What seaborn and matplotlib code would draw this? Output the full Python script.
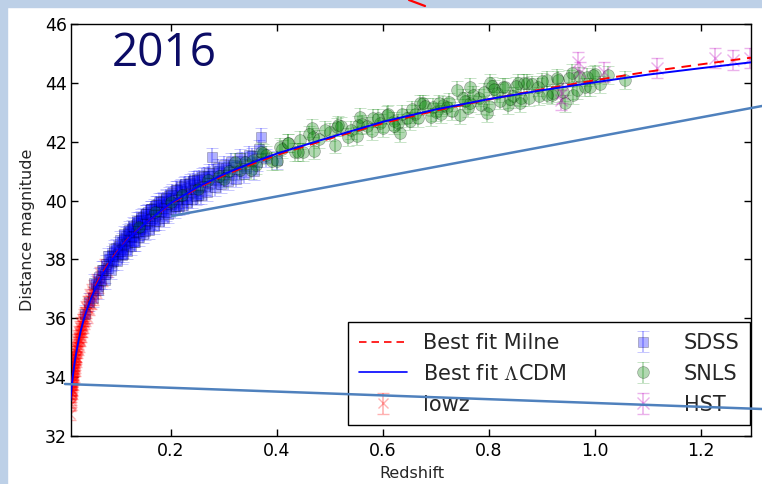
import numpy as np
import pandas as pd
import matplotlib
matplotlib.use("Agg")
import matplotlib.pyplot as plt
import seaborn as sns
from matplotlib.lines import Line2D
from matplotlib.patches import Rectangle

# ---------------- data ----------------
fit_z = [0.0101, 0.0125, 0.015, 0.0175, 0.02, 0.025, 0.03, 0.035, 0.04, 0.05, 0.06, 0.07, 0.085,
         0.1, 0.12, 0.15, 0.2, 0.25, 0.3, 0.35, 0.4, 0.5, 0.6, 0.7, 0.8, 0.9, 1.0, 1.1, 1.2, 1.3]
lcdm_mu = [33.20, 33.67, 34.07, 34.41, 34.71, 35.19, 35.60, 35.94, 36.23, 36.72, 37.12, 37.46, 37.89,
           38.27, 38.70, 39.21, 39.92, 40.46, 40.90, 41.27, 41.60, 42.15, 42.68, 43.10, 43.45, 43.75,
           44.02, 44.28, 44.50, 44.71]
milne_mu = [33.28, 33.75, 34.15, 34.49, 34.79, 35.27, 35.68, 36.02, 36.30, 36.79, 37.19, 37.52, 37.94,
            38.30, 38.72, 39.21, 39.90, 40.43, 40.86, 41.22, 41.55, 42.11, 42.63, 43.06, 43.44, 43.78,
            44.09, 44.38, 44.63, 44.87]

lowz_z = [0.0101, 0.0103, 0.0105, 0.0108, 0.011, 0.0112, 0.0115, 0.0118, 0.012, 0.0123, 0.0125,
          0.0128, 0.013, 0.0133, 0.0135, 0.0138, 0.014, 0.0145, 0.015, 0.0153, 0.0155, 0.016,
          0.0165, 0.017, 0.0175, 0.018, 0.0185, 0.019, 0.0195, 0.020, 0.021, 0.0215, 0.022, 0.023,
          0.0235, 0.024, 0.025, 0.026, 0.027, 0.028, 0.029, 0.030, 0.031, 0.032, 0.033, 0.034,
          0.035, 0.036, 0.037, 0.038, 0.040, 0.041, 0.043, 0.045, 0.047, 0.049, 0.051, 0.053,
          0.055, 0.058, 0.060, 0.063, 0.066, 0.070, 0.075, 0.080,
          0.0102, 0.0107, 0.0113, 0.0117, 0.0122, 0.0127, 0.0132, 0.0137, 0.0143, 0.0148, 0.0158,
          0.0163, 0.0168, 0.0178, 0.0183, 0.0188, 0.0198, 0.0205, 0.0212, 0.0225, 0.0245, 0.0255,
          0.0265, 0.0275, 0.0285, 0.0295, 0.0305, 0.0315, 0.0325, 0.0345, 0.0355, 0.039, 0.042,
          0.044, 0.046, 0.048, 0.050, 0.052, 0.056, 0.062, 0.068]
lowz_mu = [33.05, 32.75, 33.45, 33.20, 33.60, 33.10, 33.55, 33.35, 33.80, 33.45, 33.90,
           33.60, 34.00, 33.70, 34.10, 33.80, 34.20, 33.95, 34.30, 34.00, 34.40, 34.10,
           34.55, 34.25, 34.65, 34.35, 34.75, 34.45, 34.85, 34.55, 35.00, 34.65, 35.10, 34.85,
           35.25, 34.95, 35.40, 35.05, 35.55, 35.25, 35.70, 35.40, 35.85, 35.55, 35.95, 35.70,
           36.10, 35.85, 36.20, 35.95, 36.40, 36.05, 36.55, 36.30, 36.80, 36.50, 36.95, 36.65,
           37.10, 36.90, 37.30, 37.05, 37.55, 37.30, 37.80, 37.60,
           33.35, 33.50, 33.75, 33.25, 33.60, 33.85, 33.55, 34.05, 33.75, 34.20, 34.25,
           34.05, 34.40, 34.50, 34.25, 34.60, 34.70, 34.85, 34.70, 35.00, 35.15, 35.25,
           35.30, 35.40, 35.50, 35.55, 35.65, 35.70, 35.80, 35.95, 36.00, 36.20, 36.35,
           36.45, 36.55, 36.65, 36.75, 36.85, 37.00, 37.20, 37.40]
lowz_err = 0.2

sdss_z = [0.037, 0.045, 0.052, 0.058, 0.062, 0.065, 0.068, 0.072, 0.075, 0.078, 0.081, 0.083,
          0.086, 0.088, 0.090, 0.092, 0.095, 0.097, 0.100, 0.102, 0.104, 0.107, 0.109, 0.111,
          0.113, 0.115, 0.117, 0.119, 0.121, 0.123, 0.125, 0.127, 0.129, 0.131, 0.133, 0.135,
          0.137, 0.139, 0.141, 0.143, 0.145, 0.147, 0.150, 0.152, 0.155, 0.157, 0.160, 0.162,
          0.165, 0.168, 0.170, 0.173, 0.176, 0.178, 0.181, 0.184, 0.187, 0.190, 0.193, 0.196,
          0.199, 0.202, 0.205, 0.209, 0.213, 0.217, 0.221, 0.225, 0.229, 0.233, 0.237, 0.241,
          0.245, 0.249, 0.254, 0.259, 0.264, 0.269, 0.274, 0.277, 0.279, 0.285, 0.291, 0.297,
          0.303, 0.310, 0.317, 0.325, 0.333, 0.342, 0.352, 0.362, 0.365, 0.370, 0.380, 0.400,
          0.055, 0.063, 0.070, 0.076, 0.082, 0.087, 0.093, 0.098, 0.103, 0.108, 0.112, 0.116,
          0.120, 0.124, 0.128, 0.132, 0.136, 0.140, 0.144, 0.148, 0.153, 0.158, 0.163, 0.167,
          0.172, 0.177, 0.182, 0.186, 0.191, 0.195, 0.200, 0.207, 0.211, 0.215, 0.219, 0.223,
          0.227, 0.231, 0.235, 0.239, 0.243, 0.247, 0.252, 0.257, 0.262, 0.267, 0.272, 0.282,
          0.288, 0.294, 0.300, 0.307, 0.314, 0.322, 0.330, 0.338, 0.347, 0.357, 0.150, 0.130,
          0.110, 0.170, 0.190, 0.210, 0.230, 0.250]
sdss_mu = [36.15, 36.55, 36.70, 37.15, 37.10, 37.40, 37.30, 37.65, 37.50, 37.85, 37.70, 38.00,
           37.90, 38.15, 37.95, 38.25, 38.10, 38.40, 38.20, 38.45, 38.30, 38.60, 38.35, 38.70,
           38.50, 38.80, 38.55, 38.90, 38.65, 38.95, 38.75, 39.05, 38.80, 39.10, 38.90, 39.20,
           38.95, 39.30, 39.05, 39.35, 39.10, 39.45, 39.20, 39.55, 39.25, 39.60, 39.35, 39.70,
           39.40, 39.75, 39.50, 39.85, 39.55, 39.95, 39.65, 40.00, 39.75, 40.05, 39.85, 40.15,
           39.90, 40.25, 39.95, 40.35, 40.05, 40.40, 40.15, 40.50, 40.20, 40.55, 40.30, 40.65,
           40.40, 40.70, 40.45, 40.80, 40.50, 40.85, 40.60, 41.48, 40.95, 40.70, 41.00, 40.80,
           41.10, 40.90, 41.20, 41.00, 41.35, 41.10, 41.50, 41.30, 41.75, 42.15, 41.45, 41.38,
           37.20, 36.95, 37.65, 37.30, 38.10, 37.65, 38.35, 37.95, 38.65, 38.15, 38.85, 38.30,
           39.00, 38.45, 39.15, 38.60, 39.30, 38.75, 39.40, 38.85, 39.55, 39.00, 39.70, 39.15,
           39.85, 39.30, 39.95, 39.40, 40.10, 39.55, 40.20, 39.70, 40.35, 39.80, 40.45, 39.85,
           40.55, 39.95, 40.60, 40.05, 40.70, 40.15, 40.75, 40.20, 40.85, 40.30, 40.95, 40.45,
           41.10, 40.55, 41.20, 40.65, 41.30, 40.75, 41.45, 40.90, 41.55, 41.00, 38.95, 38.60,
           38.20, 39.30, 39.60, 39.80, 40.05, 40.20]
sdss_err = 0.3

snls_z = [0.14, 0.17, 0.20, 0.22, 0.25, 0.27, 0.29, 0.31, 0.33, 0.34, 0.355, 0.36, 0.374,
          0.38, 0.39, 0.406, 0.41, 0.421, 0.434, 0.443, 0.449, 0.466, 0.468, 0.48, 0.50, 0.513,
          0.515, 0.534, 0.54, 0.553, 0.557, 0.57, 0.581, 0.594, 0.608, 0.62, 0.628, 0.632, 0.645,
          0.66, 0.67, 0.675, 0.694, 0.70, 0.713, 0.72, 0.74, 0.745, 0.755, 0.764, 0.764, 0.78,
          0.796, 0.802, 0.806, 0.815, 0.826, 0.836, 0.845, 0.855, 0.858, 0.872, 0.892, 0.909,
          0.919, 0.921, 0.928, 0.943, 0.957, 0.959, 0.981, 0.985, 0.996, 1.025, 1.057,
          0.30, 0.32, 0.35, 0.37, 0.40, 0.42, 0.44, 0.46, 0.47, 0.49, 0.51, 0.52, 0.55, 0.56,
          0.58, 0.59, 0.60, 0.61, 0.62, 0.635, 0.65, 0.655, 0.665, 0.68, 0.69, 0.705, 0.71,
          0.725, 0.73, 0.75, 0.76, 0.77, 0.785, 0.79, 0.80, 0.81, 0.82, 0.83, 0.84, 0.85, 0.86,
          0.865, 0.875, 0.88, 0.895, 0.90, 0.91, 0.93, 0.94, 0.95, 0.965, 0.97, 0.99, 1.00, 1.01]
snls_mu = [39.10, 39.60, 39.95, 40.20, 40.40, 40.70, 40.85, 41.00, 41.05, 41.30, 41.38, 41.20, 41.62,
           41.55, 41.35, 41.82, 41.75, 41.95, 41.65, 42.06, 41.65, 42.46, 42.16, 42.10, 42.33, 42.50,
           42.57, 42.16, 42.40, 42.57, 42.84, 42.55, 42.80, 42.64, 42.91, 42.70, 42.63, 42.30, 42.80,
           42.95, 43.30, 43.30, 43.18, 43.00, 43.25, 43.18, 43.76, 42.90, 43.40, 43.86, 43.30, 43.50,
           42.98, 44.00, 43.90, 43.65, 43.86, 43.25, 43.55, 44.00, 43.30, 44.00, 43.86, 44.10,
           43.58, 43.65, 44.16, 43.30, 44.33, 43.58, 43.86, 44.20, 44.27, 44.27, 44.10,
           40.75, 41.30, 41.05, 41.65, 41.35, 41.95, 41.65, 42.25, 41.70, 42.40, 41.90, 42.55,
           42.20, 42.60, 42.35, 42.80, 42.45, 42.95, 42.55, 42.95, 42.70, 43.10, 42.80, 43.20,
           42.85, 43.30, 42.95, 43.35, 43.05, 43.50, 43.15, 43.60, 43.25, 43.70, 43.20, 43.80,
           43.40, 43.85, 43.45, 43.90, 43.50, 44.00, 43.50, 43.95, 43.55, 44.05, 43.60, 44.10,
           43.70, 44.15, 43.75, 44.25, 43.85, 44.30, 43.95]
snls_err = 0.3

hst_z = [0.935, 0.938, 0.968, 0.972, 1.017, 1.117, 1.226, 1.26, 1.293]
hst_mu = [43.42, 43.65, 44.71, 44.37, 44.37, 44.50, 44.84, 44.78, 44.84]
hst_err = 0.35

x_ticks = [0.2, 0.4, 0.6, 0.8, 1.0, 1.2]
y_ticks = [32, 34, 36, 38, 40, 42, 44, 46]

# ---------------- style ----------------
sns.set_style("ticks")
plt.rcParams.update({
    "font.family": ["DejaVu Sans"],
    "mathtext.fontset": "cm",
    "xtick.direction": "in", "ytick.direction": "in",
    "xtick.top": True, "ytick.right": True,
    "xtick.major.size": 5, "ytick.major.size": 5,
    "xtick.major.width": 1.0, "ytick.major.width": 1.0,
    "axes.linewidth": 1.0, "axes.edgecolor": "black",
    "xtick.color": "black", "ytick.color": "black",
})

W, H = 762, 484
fig = plt.figure(figsize=(W / 100, H / 100), dpi=100)
fig.patch.set_facecolor("white")
ax = fig.add_axes([71 / W, 1 - 436 / H, 680 / W, 412 / H])

common = dict(capsize=4.5, elinewidth=1.2, capthick=1.2, alpha=0.3)
h_lowz = ax.errorbar(lowz_z, lowz_mu, yerr=lowz_err, fmt="x", color="r", ms=7, mew=1.0,
                     label="lowz", **common)
h_sdss = ax.errorbar(sdss_z, sdss_mu, yerr=sdss_err, fmt="s", color="b", ms=7, mec="k", mew=0.5,
                     label="SDSS", **common)
h_snls = ax.errorbar(snls_z, snls_mu, yerr=snls_err, fmt="o", color="g", ms=8.5, mec="k", mew=0.5,
                     label="SNLS", **common)
h_hst = ax.errorbar(hst_z, hst_mu, yerr=hst_err, fmt="x", color="m", ms=9, mew=1.0,
                    label="HST", **common)

fits = pd.DataFrame({"z": fit_z, "lcdm": lcdm_mu, "milne": milne_mu})
sns.lineplot(data=fits, x="z", y="milne", ax=ax, color="r", lw=1.4,
             linestyle=(0, (5, 3.5)), zorder=5)
sns.lineplot(data=fits, x="z", y="lcdm", ax=ax, color="b", lw=1.4, zorder=6)
h_milne = Line2D([], [], color="r", lw=1.2, linestyle=(0, (4.5, 3)))
h_lcdm = Line2D([], [], color="b", lw=1.2)

ax.set_xlim(0.0113, 1.294)
ax.set_ylim(32, 46)
ax.set_xticks(x_ticks)
ax.set_yticks(y_ticks)
ax.set_xticklabels([f"{t:.1f}" for t in x_ticks])
ax.tick_params(labelsize=12.5, pad=4)
ax.tick_params(axis="y", pad=3)
ax.set_xlabel("Redshift", fontsize=11.5)
ax.set_ylabel("Distance magnitude", fontsize=11.5)
ax.xaxis.set_label_coords(0.501, -0.073)
ax.yaxis.set_label_coords(-0.053, 0.5)
for s in ax.spines.values():
    s.set_visible(True)

leg = ax.legend([h_milne, h_lcdm, h_lowz, h_sdss, h_snls, h_hst],
                ["Best fit Milne", r"Best fit $\Lambda$CDM", "lowz", "SDSS", "SNLS", "HST"],
                ncol=2, loc="lower right", bbox_to_anchor=(0.9985, 0.0267), borderaxespad=0,
                fontsize=15, numpoints=1, fancybox=False, framealpha=1, edgecolor="black",
                handlelength=2.3, handletextpad=0.8, columnspacing=2.5, labelspacing=0.52,
                borderpad=0.5)
leg.get_frame().set_linewidth(1.0)

# ---------------- slide decorations ----------------
band = "#bdd0e7"
fig.add_artist(Rectangle((0, 1 - 7 / H), 1, 7 / H, transform=fig.transFigure,
                         color=band, zorder=0))
fig.add_artist(Rectangle((0, 0), 7 / W, 1, transform=fig.transFigure, color=band, zorder=0))
fig.add_artist(Line2D([409 / W, 425 / W], [1, 1 - 6 / H], transform=fig.transFigure,
                      color="red", lw=1.6, zorder=20))
fig.text(112 / W, 1 - 66 / H, "2016", fontsize=33, family="Open Sans", color="#0c0c66",
         va="baseline", ha="left")
steel = "#4f81bd"
fig.add_artist(Line2D([65 / W, 762 / W], [1 - 384 / H, 1 - 409 / H], transform=fig.transFigure,
                      color=steel, lw=1.8, zorder=20))
fig.add_artist(Line2D([172 / W, 762 / W], [1 - 216 / H, 1 - 106 / H], transform=fig.transFigure,
                      color=steel, lw=1.8, zorder=20))

fig.savefig("out.png", dpi=100)
